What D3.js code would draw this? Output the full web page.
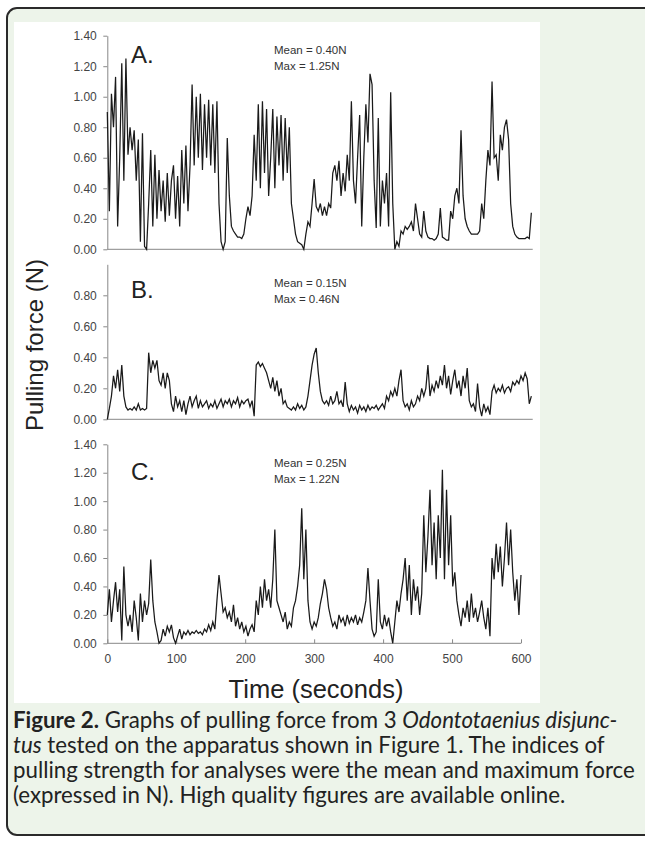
<!DOCTYPE html>
<html>
<head>
<meta charset="utf-8">
<script src="https://cdn.jsdelivr.net/npm/d3@7"></script>
<style>
  body { margin: 0; background: #fff; }
  svg { display: block; }
</style>
</head>
<body>
<div id="chart"></div>
<script>
// force samples every 3 seconds
const timeStep = 3

const forceA = [
  0.90, 0.25, 1.02, 0.80, 1.13, 0.15, 0.60, 1.22, 0.45, 1.25,  // 0-27 s
  0.62, 0.80, 0.65, 0.78, 0.45, 0.72, 0.05, 0.76, 0.02, 0.00,
  0.30, 0.65, 0.15, 0.62, 0.20, 0.52, 0.25, 0.45, 0.18, 0.50,  // 60
  0.22, 0.45, 0.55, 0.20, 0.48, 0.15, 0.65, 0.30, 0.68, 0.25,
  0.55, 1.08, 0.55, 1.00, 0.60, 1.02, 0.52, 0.95, 0.60, 0.98,  // 120
  0.55, 0.95, 0.50, 0.97, 0.30, 0.05, 0.00, 0.05, 0.73, 0.35,
  0.15, 0.12, 0.10, 0.08, 0.08, 0.07, 0.10, 0.20, 0.28, 0.22,  // 180
  0.35, 0.75, 0.45, 0.95, 0.40, 0.97, 0.50, 0.92, 0.35, 0.60,
  0.92, 0.40, 0.87, 0.55, 0.88, 0.45, 0.86, 0.50, 0.80, 0.30,  // 240
  0.20, 0.10, 0.05, 0.04, 0.03, 0.00, 0.10, 0.18, 0.15, 0.30,
  0.46, 0.28, 0.25, 0.30, 0.22, 0.28, 0.22, 0.30, 0.27, 0.50,  // 300
  0.55, 0.45, 0.58, 0.35, 0.50, 0.38, 0.62, 0.45, 0.97, 0.45,
  0.30, 0.60, 0.88, 0.15, 0.60, 0.95, 0.70, 1.15, 1.08, 0.45,  // 360
  0.14, 0.86, 0.15, 0.45, 0.30, 0.50, 0.15, 1.03, 0.30, 0.00,
  0.05, 0.02, 0.12, 0.10, 0.15, 0.13, 0.15, 0.18, 0.12, 0.30,  // 420
  0.20, 0.10, 0.08, 0.25, 0.12, 0.08, 0.07, 0.07, 0.06, 0.07,
  0.10, 0.27, 0.08, 0.07, 0.06, 0.06, 0.25, 0.20, 0.35, 0.40,  // 480
  0.30, 0.78, 0.35, 0.20, 0.15, 0.12, 0.10, 0.10, 0.10, 0.10,
  0.12, 0.30, 0.20, 0.45, 0.65, 0.55, 1.10, 0.60, 0.62, 0.45,  // 540
  0.75, 0.65, 0.80, 0.85, 0.72, 0.30, 0.15, 0.10, 0.08, 0.07,
  0.07, 0.07, 0.07, 0.08, 0.07, 0.24                           // 600
]

const forceB = [
  0.00, 0.07, 0.15, 0.28, 0.20, 0.32, 0.18, 0.35, 0.15, 0.08,  // 0
  0.06, 0.07, 0.06, 0.08, 0.06, 0.10, 0.06, 0.07, 0.06, 0.07,
  0.43, 0.30, 0.38, 0.33, 0.38, 0.25, 0.22, 0.30, 0.20, 0.30,  // 60
  0.25, 0.10, 0.05, 0.15, 0.08, 0.12, 0.05, 0.12, 0.03, 0.10,
  0.15, 0.08, 0.12, 0.15, 0.07, 0.12, 0.08, 0.10, 0.12, 0.07,  // 120
  0.10, 0.08, 0.12, 0.07, 0.10, 0.13, 0.08, 0.12, 0.10, 0.13,
  0.08, 0.12, 0.10, 0.14, 0.08, 0.12, 0.10, 0.12, 0.13, 0.08,  // 180
  0.12, 0.02, 0.35, 0.37, 0.34, 0.36, 0.33, 0.30, 0.25, 0.20,
  0.27, 0.18, 0.25, 0.15, 0.20, 0.10, 0.12, 0.08, 0.07, 0.06,  // 240
  0.08, 0.06, 0.10, 0.07, 0.09, 0.06, 0.08, 0.15, 0.25, 0.35,
  0.42, 0.46, 0.30, 0.18, 0.12, 0.10, 0.12, 0.09, 0.15, 0.10,  // 300
  0.12, 0.18, 0.10, 0.12, 0.08, 0.24, 0.10, 0.05, 0.09, 0.06,
  0.08, 0.04, 0.09, 0.06, 0.08, 0.05, 0.09, 0.06, 0.08, 0.07,  // 360
  0.09, 0.06, 0.08, 0.10, 0.07, 0.15, 0.12, 0.18, 0.15, 0.20,
  0.15, 0.25, 0.32, 0.12, 0.08, 0.10, 0.06, 0.12, 0.08, 0.10,  // 420
  0.15, 0.12, 0.20, 0.15, 0.20, 0.35, 0.15, 0.22, 0.18, 0.25,
  0.20, 0.28, 0.22, 0.35, 0.20, 0.28, 0.16, 0.25, 0.32, 0.20,  // 480
  0.25, 0.15, 0.28, 0.20, 0.33, 0.12, 0.08, 0.10, 0.05, 0.23,
  0.08, 0.02, 0.10, 0.05, 0.08, 0.03, 0.18, 0.22, 0.17, 0.20,  // 540
  0.18, 0.22, 0.17, 0.20, 0.21, 0.18, 0.24, 0.22, 0.25, 0.23,
  0.28, 0.25, 0.30, 0.26, 0.10, 0.15                           // 600
]

const forceC = [
  0.20, 0.38, 0.15, 0.30, 0.43, 0.22, 0.38, 0.02, 0.54, 0.20,  // 0
  0.12, 0.20, 0.08, 0.30, 0.18, 0.02, 0.35, 0.15, 0.30, 0.20,
  0.28, 0.59, 0.30, 0.15, 0.08, 0.00, 0.02, 0.10, 0.05, 0.12,  // 60
  0.08, 0.13, 0.04, 0.00, 0.05, 0.10, 0.03, 0.08, 0.06, 0.09,
  0.06, 0.08, 0.07, 0.09, 0.07, 0.08, 0.06, 0.10, 0.08, 0.13,  // 120
  0.09, 0.15, 0.10, 0.30, 0.48, 0.35, 0.22, 0.25, 0.18, 0.22,
  0.15, 0.27, 0.12, 0.18, 0.10, 0.15, 0.08, 0.12, 0.05, 0.10,  // 180
  0.13, 0.08, 0.30, 0.20, 0.40, 0.25, 0.45, 0.30, 0.38, 0.25,
  0.45, 0.80, 0.30, 0.25, 0.20, 0.15, 0.22, 0.10, 0.15, 0.12,  // 240
  0.25, 0.30, 0.40, 0.55, 0.95, 0.45, 0.80, 0.30, 0.15, 0.10,
  0.15, 0.12, 0.18, 0.28, 0.35, 0.45, 0.38, 0.25, 0.18, 0.12,  // 300
  0.15, 0.10, 0.20, 0.15, 0.18, 0.12, 0.20, 0.14, 0.18, 0.15,
  0.20, 0.13, 0.18, 0.15, 0.22, 0.30, 0.53, 0.30, 0.10, 0.05,  // 360
  0.08, 0.45, 0.15, 0.10, 0.20, 0.12, 0.18, 0.08, 0.00, 0.15,
  0.30, 0.22, 0.35, 0.45, 0.60, 0.30, 0.55, 0.20, 0.45, 0.30,  // 420
  0.40, 0.20, 0.35, 0.90, 0.50, 0.75, 1.08, 0.55, 0.85, 0.45,
  0.90, 0.60, 1.22, 0.45, 1.08, 0.55, 0.90, 0.40, 0.50, 0.30,  // 480
  0.20, 0.12, 0.25, 0.18, 0.30, 0.15, 0.35, 0.18, 0.25, 0.15,
  0.22, 0.30, 0.18, 0.10, 0.25, 0.05, 0.60, 0.45, 0.70, 0.50,  // 540
  0.68, 0.40, 0.60, 0.85, 0.55, 0.80, 0.50, 0.30, 0.45, 0.20,
  0.48                                                         // 600
]

const panelLabels = ["A.", "B.", "C."]
const meanLabels = ["Mean = 0.40N", "Mean = 0.15N", "Mean = 0.25N"]
const maxLabels = ["Max = 1.25N", "Max = 0.46N", "Max = 1.22N"]
const yTicksA = [0, 0.2, 0.4, 0.6, 0.8, 1.0, 1.2, 1.4]
const yTicksB = [0, 0.2, 0.4, 0.6, 0.8]
const yTicksC = [0, 0.2, 0.4, 0.6, 0.8, 1.0, 1.2, 1.4]
const xTicks = [0, 100, 200, 300, 400, 500, 600]

const w = 645
const h = 842
const chartFont = "'Liberation Sans', Arial, sans-serif"
const captionFont = "Lato, 'Noto Sans', sans-serif"

const svg = d3.select("#chart")
  .append("svg")
  .attr("width", w)
  .attr("height", h)

// page frame and white figure area
svg.append("rect")
  .attr("x", 7).attr("y", 8)
  .attr("width", 670).attr("height", 827)
  .attr("rx", 10)
  .attr("fill", "#edf4ea")
  .attr("stroke", "#2a2a2a")
  .attr("stroke-width", 2)
svg.append("rect")
  .attr("x", 14).attr("y", 22)
  .attr("width", 526).attr("height", 681)
  .attr("fill", "#fff")

const x = d3.scaleLinear().domain([0, 600]).range([107.3, 521])

const panels = [
  {values: forceA, yMax: 1.4, ticks: yTicksA, top: 35.7, bottom: 249.3, tEnd: 617, textY: 54, labelY: 63},
  {values: forceB, yMax: 1.0, ticks: yTicksB, top: 264.3, bottom: 419.3, tEnd: 617, textY: 287, labelY: 298},
  {values: forceC, yMax: 1.4, ticks: yTicksC, top: 444.3, bottom: 643.3, tEnd: 600, textY: 467, labelY: 480}
]

panels.forEach((p, k) => {
  const y = d3.scaleLinear().domain([0, p.yMax]).range([p.bottom, p.top])
  const g = svg.append("g")

  const yAxis = d3.axisLeft(y)
    .tickValues(p.ticks)
    .tickFormat(d3.format(".2f"))
    .tickSize(4)
    .tickSizeOuter(0)
  const ya = g.append("g")
    .attr("transform", `translate(${x(0)},0)`)
    .call(yAxis)
  ya.select(".domain").attr("stroke", "#888")
  ya.selectAll(".tick line").attr("stroke", "#888")
  ya.selectAll(".tick text")
    .attr("font-family", chartFont)
    .attr("font-size", 12)
    .attr("fill", "#444")
    .attr("x", -10.5)

  // baseline at zero
  g.append("line")
    .attr("x1", x(0)).attr("x2", x(p.tEnd))
    .attr("y1", y(0)).attr("y2", y(0))
    .attr("stroke", "#888")

  if (k === 2) {
    const xAxis = d3.axisBottom(x)
      .tickValues(xTicks)
      .tickSize(-4)
      .tickSizeOuter(0)
      .tickPadding(11)
    const xa = g.append("g")
      .attr("transform", `translate(0,${y(0)})`)
      .call(xAxis)
    xa.select(".domain").remove()
    xa.selectAll(".tick line").attr("stroke", "#888")
    xa.selectAll(".tick text")
      .attr("font-family", chartFont)
      .attr("font-size", 12)
      .attr("fill", "#444")
  }

  const line = d3.line()
    .x((d, i) => x(i * timeStep))
    .y(d => y(d))
  g.append("path")
    .datum(p.values)
    .attr("d", line)
    .attr("fill", "none")
    .attr("stroke", "#1a1a1a")
    .attr("stroke-width", 1.25)
    .attr("stroke-linejoin", "miter")

  g.append("text")
    .attr("x", 131)
    .attr("y", p.labelY)
    .attr("font-family", chartFont)
    .attr("font-size", 24)
    .attr("fill", "#222")
    .text(panelLabels[k])
  g.append("text")
    .attr("x", 274)
    .attr("y", p.textY)
    .attr("font-family", chartFont)
    .attr("font-size", 11.5)
    .attr("fill", "#333")
    .text(meanLabels[k])
  g.append("text")
    .attr("x", 274)
    .attr("y", p.textY + 16)
    .attr("font-family", chartFont)
    .attr("font-size", 11.5)
    .attr("fill", "#333")
    .text(maxLabels[k])
})

svg.append("text")
  .attr("x", 316)
  .attr("y", 698)
  .attr("text-anchor", "middle")
  .attr("font-family", chartFont)
  .attr("font-size", 25.5)
  .attr("fill", "#222")
  .text("Time (seconds)")

svg.append("text")
  .attr("transform", "translate(43,345) rotate(-90)")
  .attr("text-anchor", "middle")
  .attr("font-family", chartFont)
  .attr("font-size", 24)
  .attr("fill", "#222")
  .text("Pulling force (N)")

// caption; size it so the third line fills the frame width like the original
const cap = svg.append("text")
  .attr("font-family", captionFont)
  .attr("font-size", 19.5)
  .attr("fill", "#222")
const l1 = cap.append("tspan").attr("x", 13).attr("y", 728)
l1.append("tspan").attr("font-weight", "bold").text("Figure 2.")
l1.append("tspan").text(" Graphs of pulling force from 3 ")
l1.append("tspan").attr("font-style", "italic").text("Odontotaenius disjunc-")
const l2 = cap.append("tspan").attr("x", 13).attr("y", 753)
l2.append("tspan").attr("font-style", "italic").text("tus")
l2.append("tspan").text(" tested on the apparatus shown in Figure 1. The indices of")
const l3 = cap.append("tspan").attr("x", 13).attr("y", 778)
  .text("pulling strength for analyses were the mean and maximum force")
cap.append("tspan").attr("x", 13).attr("y", 803)
  .text("(expressed in N). High quality figures are available online.")

const probe = svg.append("text")
  .attr("font-family", captionFont)
  .attr("font-size", 19.5)
  .text("pulling strength for analyses were the mean and maximum force")
const fitted = 19.5 * 622 / probe.node().getComputedTextLength()
probe.remove()
cap.attr("font-size", fitted)
</script>
</body>
</html>
